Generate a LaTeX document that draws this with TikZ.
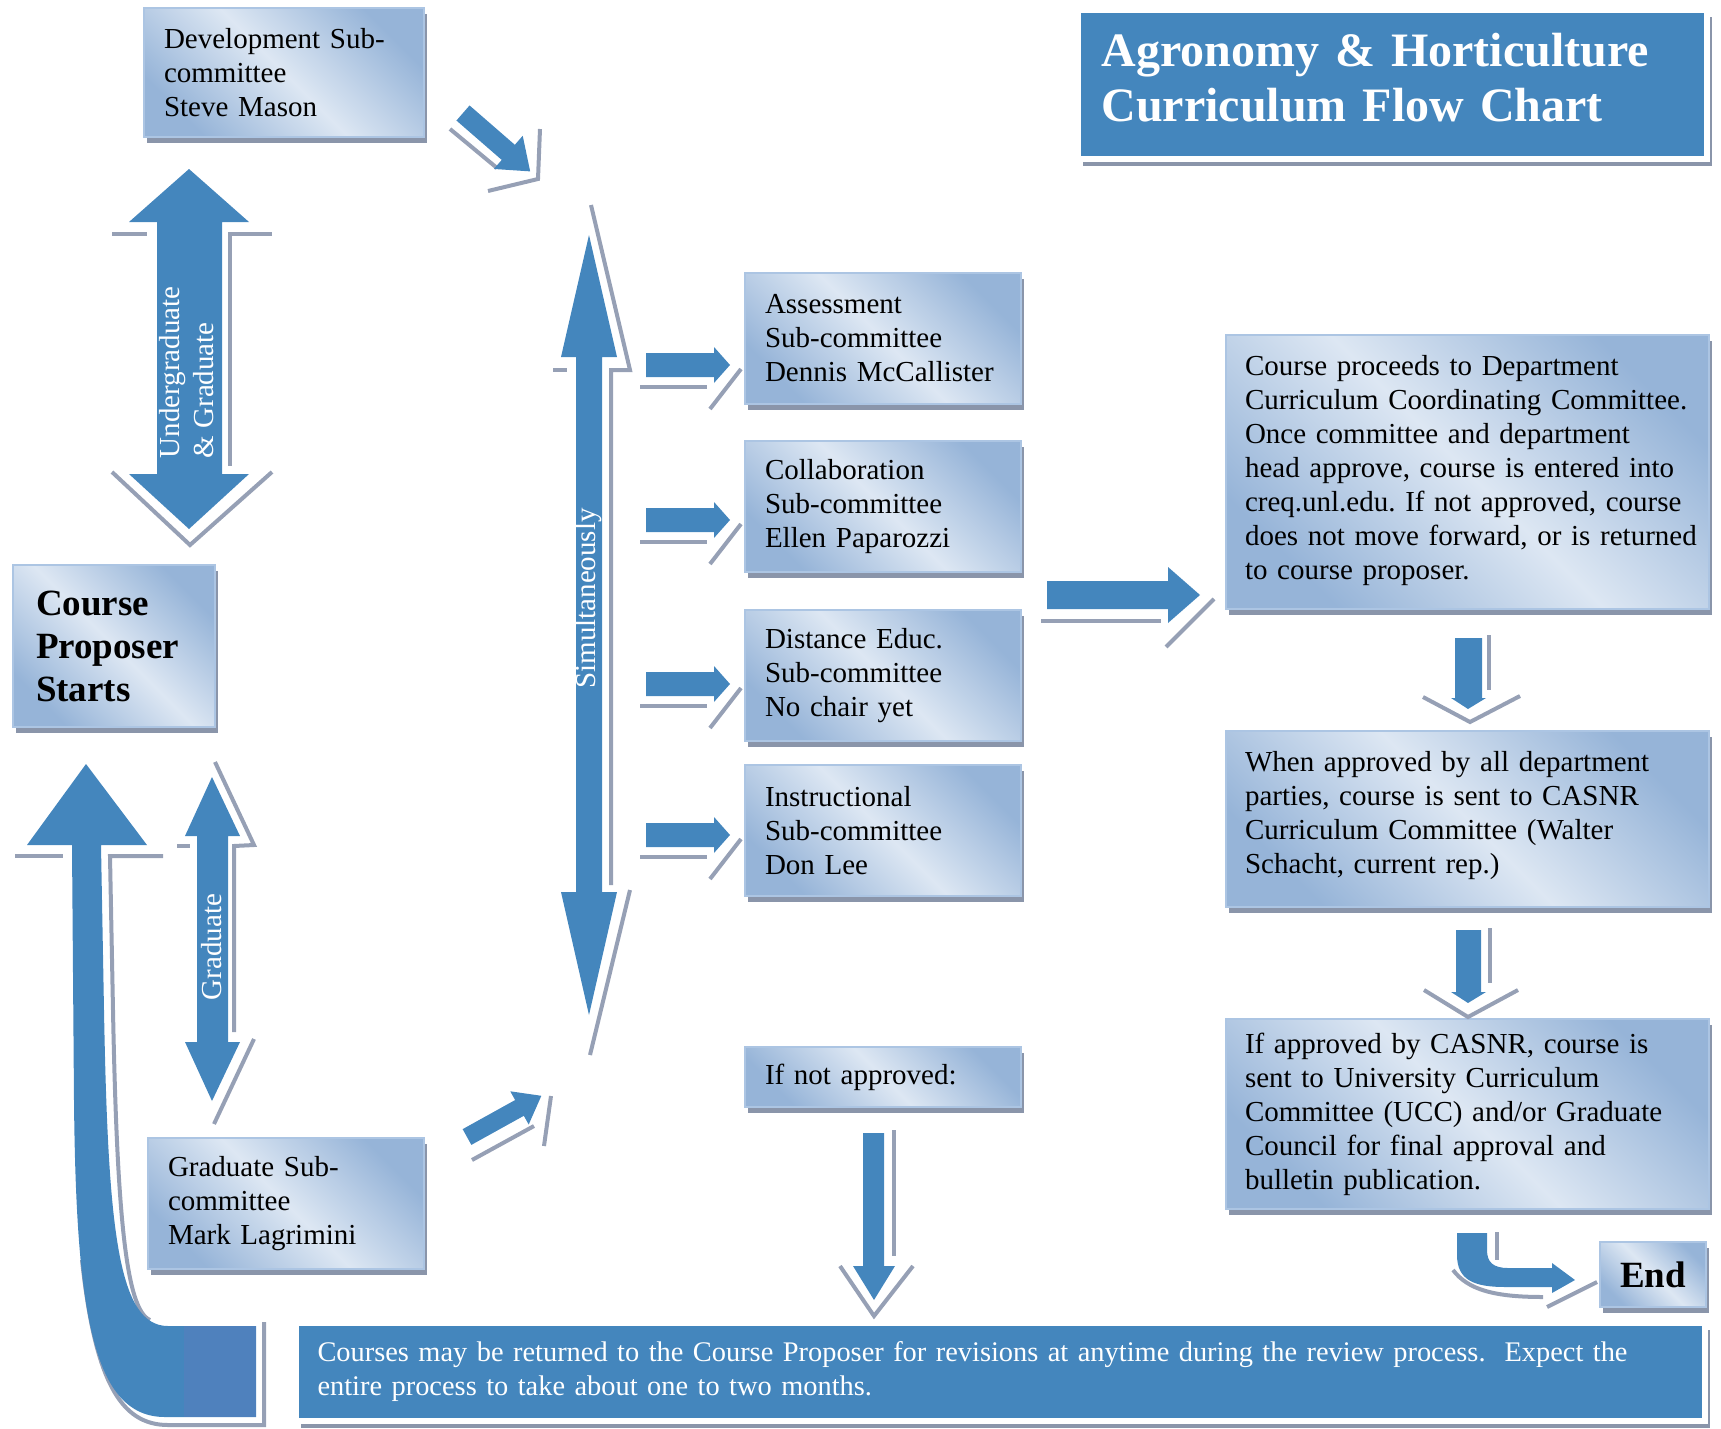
\documentclass[tikz,border=0pt]{standalone}
\usepackage{fontspec}
\setmainfont{Liberation Serif}
\usetikzlibrary{shadows}

\definecolor{flowblue}{RGB}{68,134,189}
\definecolor{cornerblue}{RGB}{79,129,189}
\definecolor{boxlight}{RGB}{221,231,243}
\definecolor{boxdark}{RGB}{150,180,216}
\definecolor{boxedge}{RGB}{172,197,227}
\definecolor{boxshade}{RGB}{138,149,170}
\definecolor{glintgrey}{RGB}{150,160,181}

\begin{document}
\frenchspacing\hyphenpenalty=10000
\begin{tikzpicture}[x=1pt,y=-1pt,
  panel/.style={draw=boxedge, line width=1.5pt,
    top color=boxdark, bottom color=boxdark, middle color=boxlight, shading angle=-45,
    drop shadow={shadow xshift=3pt, shadow yshift=-6pt, fill=boxshade, opacity=1},
    inner xsep=20pt, inner ysep=0pt, align=left, font=\fontsize{29}{34}\selectfont},
  banner/.style={fill=flowblue, draw=white, line width=6pt,
    drop shadow={shadow xshift=5pt, shadow yshift=-7pt, fill=boxshade, opacity=1},
    text=white, align=left, inner xsep=0pt},
  glint/.style={draw=glintgrey, line width=4pt},
  along/.style={text=white, rotate=90, align=left, font=\fontsize{29}{34}\selectfont}]
\useasboundingbox (0,0) rectangle (1721,1429);

\node[banner, minimum width=629pt, minimum height=149pt, text width=582pt, text depth=70pt,
  font=\fontsize{48}{55}\selectfont\bfseries] (title) at (1392.5,84.5)
  {Agronomy \& Horticulture\\Curriculum Flow Chart};
\node[banner, minimum width=1409pt, minimum height=98pt, text width=1366pt,
  font=\fontsize{28.4}{34}\selectfont] (returnnote) at (1000.5,1372)
  {Courses may be returned to the Course Proposer for revisions at anytime during the review process.\ \ Expect the\\entire process to take about one to two months.};

\node[panel, minimum width=280pt, minimum height=129pt, text width=240pt] (devsub) at (284,72.5) {Development Sub-\\committee\\Steve Mason};
\node[panel, minimum width=202pt, minimum height=162pt, text width=156pt,
  font=\fontsize{37}{43}\selectfont\bfseries] (proposer) at (114,646) {Course\\Proposer\\Starts};
\node[panel, minimum width=276pt, minimum height=131pt, text width=236pt] (gradsub) at (286,1203.5) {Graduate Sub-\\committee\\Mark Lagrimini};

\node[panel, minimum width=276pt, minimum height=131pt, text width=236pt] (assess) at (883,338.5) {Assessment\\Sub-committee\\Dennis McCallister};
\node[panel, minimum width=276pt, minimum height=131pt, text width=236pt] (collab) at (883,506.5) {Collaboration\\Sub-committee\\Ellen Paparozzi};
\node[panel, minimum width=276pt, minimum height=131pt, text width=236pt] (distance) at (883,675.5) {Distance Educ.\\Sub-committee\\No chair yet};
\node[panel, minimum width=276pt, minimum height=131pt, text width=236pt] (instruct) at (883,830.5) {Instructional\\Sub-committee\\Don Lee};
\node[panel, minimum width=276pt, minimum height=60pt, text width=236pt] (notapproved) at (883,1077) {If not approved:};

\node[panel, minimum width=483pt, minimum height=274pt, text width=445pt, inner xsep=19pt, text depth=214pt] (deptcc) at (1467.5,472)
  {Course proceeds to Department\\\mbox{Curriculum Coordinating Committee.}\\Once committee and department\\\mbox{head approve, course is entered into}\\\mbox{creq.unl.edu. If not approved, course}\\\mbox{does not move forward, or is returned}\\to course proposer.};
\node[panel, minimum width=483pt, minimum height=176pt, text width=445pt, inner xsep=19pt, text depth=116pt] (casnrcc) at (1467.5,819)
  {When approved by all department\\parties, course is sent to CASNR\\Curriculum Committee (Walter\\Schacht, current rep.)};
\node[panel, minimum width=483pt, minimum height=190pt, text width=445pt, inner xsep=19pt] (ucc) at (1467.5,1114)
  {If approved by CASNR, course is\\sent to University Curriculum\\Committee (UCC) and/or Graduate\\Council for final approval and\\bulletin publication.};
\node[panel, minimum width=106pt, minimum height=65pt, align=center,
  font=\fontsize{37}{43}\selectfont\bfseries] (finish) at (1653,1274.5) {End};

\draw[glint] (112,234) -- (147,234);
\draw[glint] (272,234) -- (230,234) -- (230,466);
\draw[glint] (112,472) -- (190,545) -- (272,472);
\fill[flowblue] (189,169) -- (249,222) -- (222,222) -- (222,474) -- (249,474) -- (189,529)
  -- (129,474) -- (157,474) -- (157,222) -- (129,222) -- cycle;

\draw[glint] (553,370) -- (567,370);
\draw[glint] (591,205) -- (630,370) -- (611,370) -- (611,885);
\draw[glint] (630,890) -- (590,1055);
\fill[flowblue] (589,235) -- (617,357) -- (602,357) -- (602,892) -- (617,892) -- (589,1015)
  -- (561,892) -- (576,892) -- (576,357) -- (561,357) -- cycle;

\draw[glint] (177,846) -- (190,846);
\draw[glint] (215,762) -- (254,845) -- (234,846) -- (234,1032);
\draw[glint] (254,1039) -- (214,1124);
\fill[flowblue] (212,777) -- (240,836) -- (228,836) -- (228,1042) -- (240,1042) -- (212,1101)
  -- (185,1042) -- (197,1042) -- (197,836) -- (185,836) -- cycle;

\draw[glint] (15,856) -- (63,856);
\draw[glint] (163,856) -- (110,856) -- (113,1010) .. controls (117,1215) and (126,1310) .. (150,1320);
\draw[glint] (82,1260) .. controls (95,1380) and (120,1425) .. (168,1425) -- (264,1425) -- (264,1322);
\fill[flowblue] (86,764) -- (147,845) -- (101,845) -- (104,1010) .. controls (108,1230) and (118,1326) .. (168,1326)
  -- (256,1326) -- (256,1417) -- (165,1417) .. controls (92,1417) and (76,1310) .. (74,1100)
  -- (72,845) -- (27,845) -- cycle;
\fill[cornerblue] (184,1326) rectangle (256,1417);

\draw[glint] (450,129) -- (497,168);
\draw[glint] (540,129) -- (538,179) -- (488,191);
\begin{scope}[shift={(463,113)}, rotate=-41]
\fill[flowblue] (0,-10) -- (60,-10) -- (60,-22) -- (89,0) -- (60,22) -- (60,10) -- (0,10) -- cycle;
\end{scope}

\draw[glint] (472,1160) -- (534,1126);
\draw[glint] (551,1096) -- (544,1146);
\begin{scope}[shift={(467,1137)}, rotate=29]
\fill[flowblue] (0,-9) -- (60,-9) -- (60,-19) -- (85,0) -- (60,19) -- (60,9) -- (0,9) -- cycle;
\end{scope}

\foreach \ay in {365,520,684,835} {
  \draw[glint] (640,\ay+22) -- (707,\ay+22);
  \draw[glint] (710,\ay+44) -- (741,\ay+4);
  \fill[flowblue] (646,\ay-12) -- (714,\ay-12) -- (714,\ay-18) -- (730,\ay) -- (714,\ay+18)
    -- (714,\ay+12) -- (646,\ay+12) -- cycle;
}

\draw[glint] (1041,621) -- (1161,621);
\draw[glint] (1166,647) -- (1214,599);
\fill[flowblue] (1047,581) -- (1168,581) -- (1168,567) -- (1200,595) -- (1168,623) -- (1168,609)
  -- (1047,609) -- cycle;

\draw[glint] (1489,635) -- (1489,690);
\draw[glint] (1423,697) -- (1470,722) -- (1520,696);
\fill[flowblue] (1455,638) -- (1482,638) -- (1482,698) -- (1486,698) -- (1468,709) -- (1451,698)
  -- (1455,698) -- cycle;

\draw[glint] (1490,928) -- (1490,983);
\draw[glint] (1424,990) -- (1468,1017) -- (1518,990);
\fill[flowblue] (1456,930) -- (1481,930) -- (1481,992) -- (1486,992) -- (1468,1003) -- (1451,992)
  -- (1456,992) -- cycle;

\draw[glint] (894,1130) -- (894,1256);
\draw[glint] (840,1266) -- (874,1316) -- (913,1266);
\fill[flowblue] (863,1133) -- (884,1133) -- (884,1266) -- (895,1266) -- (874,1300) -- (853,1266)
  -- (863,1266) -- cycle;

\draw[glint] (1497,1232) -- (1497,1260);
\draw[glint] (1453,1270) .. controls (1468,1290) and (1495,1297) .. (1543,1297);
\draw[glint] (1547,1307) -- (1597,1282);
\fill[flowblue] (1457,1233) -- (1457,1255) .. controls (1457,1280) and (1474,1287) .. (1505,1287)
  -- (1552,1287) -- (1552,1293) -- (1575,1280) -- (1552,1263) -- (1552,1268) -- (1508,1268)
  .. controls (1493,1268) and (1487,1262) .. (1487,1250) -- (1487,1233) -- cycle;

\node[along] (bothlevels) at (186.5,372.5) {Undergraduate\\\& Graduate};
\node[along] (together) at (589,598.5) {Simultaneously};
\node[along] (gradonly) at (212,947) {Graduate};
\end{tikzpicture}
\end{document}
